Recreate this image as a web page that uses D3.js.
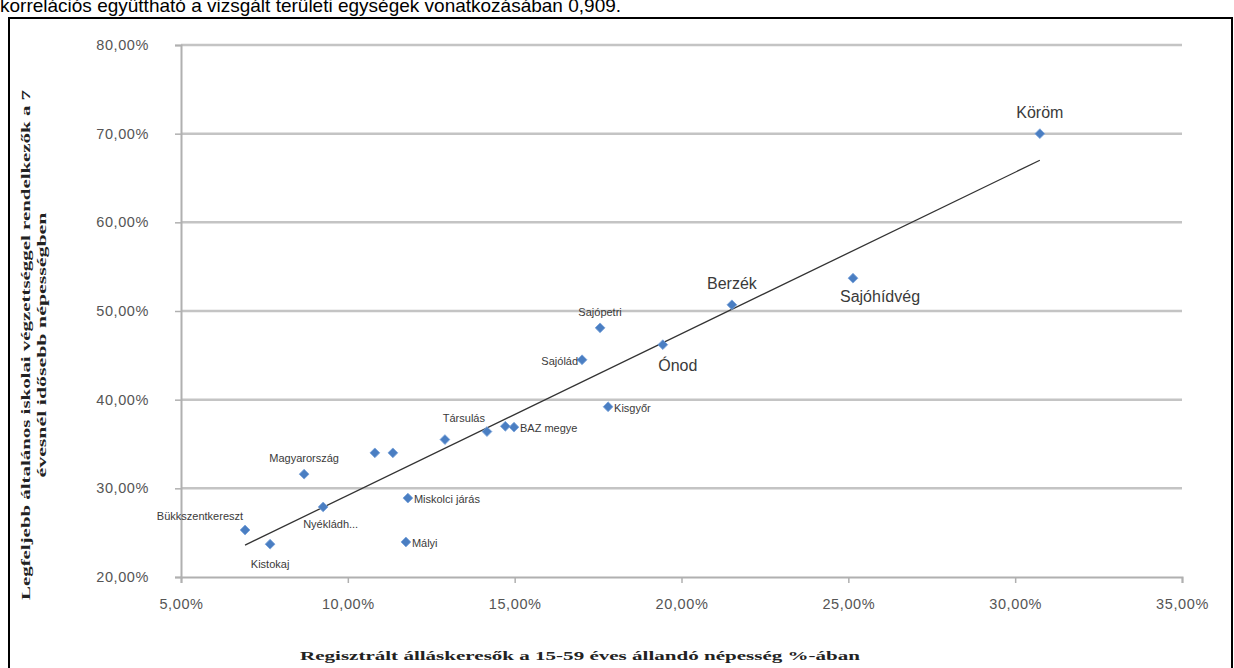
<!DOCTYPE html>
<html><head><meta charset="utf-8">
<script src="https://cdn.jsdelivr.net/npm/d3@7/dist/d3.min.js"></script>
<style>body{margin:0;background:#fff;overflow:hidden}svg{display:block}</style>
</head><body>
<svg id="c" width="1234" height="668"></svg>
<script>
const names = ["Köröm","Sajóhídvég","Berzék","Ónod","Sajópetri","Sajólád","Kisgyőr","BAZ megye","","Társulás","","","","Magyarország","Nyékládh...","Miskolci járás","Bükkszentkereszt","Kistokaj","Mályi"];
const xVals = [30.74,25.14,21.51,19.44,17.56,17.02,17.80,14.98,14.72,14.17,12.91,10.81,11.35,8.69,9.26,11.80,6.92,7.67,11.74];
const yVals = [70.0,53.7,50.7,46.2,48.1,44.5,39.2,36.9,37.0,36.4,35.5,34.0,34.0,31.6,27.9,28.9,25.3,23.7,23.95];
const labelSize = ["big","big","big","big","s","s","s","s","s","s","s","s","s","s","s","s","s","s","s"];
const labelPos = ["top","bottom","top","bottomright","top","left","right","right","","topleft","","","","top","belowright","right","topleft","bottom","right"];
const trendX = [6.92, 30.74];
const trendY = [23.6, 67.0];
const xTicks = [5,10,15,20,25,30,35];
const yTicks = [20,30,40,50,60,70,80];
const fmt = v => v.toFixed(2).replace(".", ",") + "%";

const svg = d3.select("#c");
// caption text cut at top
svg.append("text").attr("x", 0).attr("y", 12).attr("font-family","Liberation Sans, Arial, sans-serif")
  .attr("font-size", 19).attr("fill","#000")
  .text("korrelációs együttható a vizsgált területi egységek vonatkozásában 0,909.");
// frame
svg.append("rect").attr("x", 9).attr("y", 18).attr("width", 1223).attr("height", 660)
  .attr("fill","none").attr("stroke","#000").attr("stroke-width", 2);

const x = d3.scaleLinear().domain([5,35]).range([181,1182]);
const y = d3.scaleLinear().domain([20,80]).range([577,45]);

// gridlines
svg.append("g").selectAll("line").data(yTicks.filter(d=>d>20)).join("line")
  .attr("x1", x(5)).attr("x2", x(35)).attr("y1", d=>y(d)).attr("y2", d=>y(d))
  .attr("stroke","#c4c4c4").attr("stroke-width", 2.5);

// axes
const yAxis = d3.axisLeft(y).tickValues(yTicks).tickFormat(fmt).tickSize(6).tickPadding(26);
const gy = svg.append("g").attr("transform",`translate(${x(5)},0)`).call(yAxis);
const xAxis = d3.axisBottom(x).tickValues(xTicks).tickFormat(fmt).tickSize(6).tickPadding(16);
const gx = svg.append("g").attr("transform",`translate(0,${y(20)})`).call(xAxis);
[gx, gy].forEach(g => {
  g.select(".domain").attr("stroke","#b0b0b0").attr("stroke-width",2);
  g.selectAll(".tick line").attr("stroke","#b0b0b0").attr("stroke-width",1.5);
  g.selectAll(".tick text").attr("fill","#555").attr("font-size",14.5).attr("letter-spacing",0.6)
    .attr("font-family","Liberation Sans, Arial, sans-serif");
});

// trend line
svg.append("line").attr("x1", x(trendX[0])).attr("y1", y(trendY[0]))
  .attr("x2", x(trendX[1])).attr("y2", y(trendY[1]))
  .attr("stroke","#333").attr("stroke-width",1.3);

// points
const data = names.map((n,i)=>({n, x:xVals[i], y:yVals[i], s:labelSize[i], p:labelPos[i]}));
svg.append("g").selectAll("path").data(data).join("path")
  .attr("transform", d=>`translate(${x(d.x)},${y(d.y)}) rotate(45)`)
  .attr("d", d3.symbol().type(d3.symbolSquare).size(48))
  .attr("fill","#4a7ec2").attr("stroke","#7aa3da").attr("stroke-width",0.8);

// labels
const off = {
  top:[0,-12,"middle"], bottom:[0,24,"middle"], left:[-4,5,"end"], right:[6,5,"start"],
  bottomright:[15,26,"middle"], topleft:[-2,-10,"end"], belowright:[-20,21,"start"]
};
svg.append("g").selectAll("text").data(data.filter(d=>d.n)).join("text")
  .attr("x", d=>x(d.x)+off[d.p][0] + (d.s==="big" && d.p==="bottom" ? 27 : 0))
  .attr("y", d=>y(d.y)+off[d.p][1] + (d.s==="big" && d.p==="top" ? -4 : 0))
  .attr("text-anchor", d=>off[d.p][2])
  .attr("font-size", d=>d.s==="big"?16:11)
  .attr("font-family","Liberation Sans, Arial, sans-serif")
  .attr("fill","#3a3a3a")
  .text(d=>d.n);

// axis titles
svg.append("text").attr("x", 580).attr("y", 660).attr("text-anchor","middle")
  .attr("font-family","Liberation Serif, serif").attr("font-weight","bold").attr("font-size",13)
  .attr("fill","#222").attr("textLength", 560).attr("lengthAdjust","spacingAndGlyphs")
  .text("Regisztrált álláskeresők a 15-59 éves állandó népesség %-ában");
const yt = svg.append("g").attr("transform","translate(30,345) rotate(-90)");
yt.append("text").attr("x",0).attr("y",0).attr("text-anchor","middle")
  .attr("font-family","Liberation Serif, serif").attr("font-weight","bold").attr("font-size",13)
  .attr("fill","#222").attr("textLength", 510).attr("lengthAdjust","spacingAndGlyphs")
  .text("Legfeljebb általános iskolai végzettséggel rendelkezők a 7");
yt.append("text").attr("x",0).attr("y",16).attr("text-anchor","middle")
  .attr("font-family","Liberation Serif, serif").attr("font-weight","bold").attr("font-size",13)
  .attr("fill","#222").attr("textLength", 265).attr("lengthAdjust","spacingAndGlyphs")
  .text("évesnél idősebb népességben");
</script>
</body></html>
